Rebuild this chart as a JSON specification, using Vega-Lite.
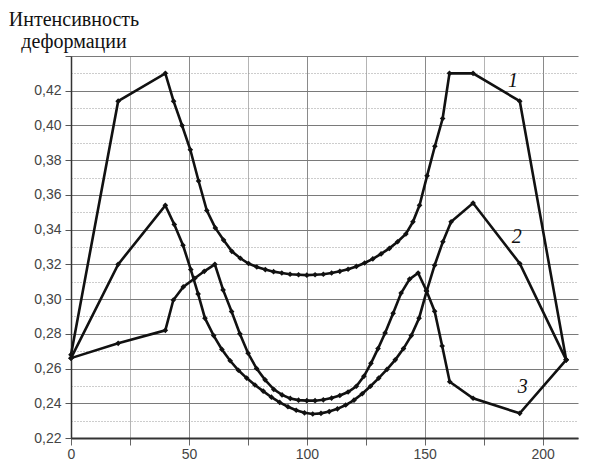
{
  "$schema": "https://vega.github.io/schema/vega-lite/v6.json",
  "width": 507,
  "height": 382,
  "autosize": {"type": "none"},
  "padding": {"left": 71, "top": 56, "right": 12, "bottom": 26},
  "background": "white",
  "config": {"view": {"stroke": null}},
  "data": {
    "values": [
      {"curve": "1", "x": 0, "y": 0.268},
      {"curve": "1", "x": 20, "y": 0.414},
      {"curve": "1", "x": 40, "y": 0.430},
      {"curve": "1", "x": 43.5, "y": 0.414},
      {"curve": "1", "x": 47.1, "y": 0.400},
      {"curve": "1", "x": 50.6, "y": 0.386},
      {"curve": "1", "x": 54.1, "y": 0.368},
      {"curve": "1", "x": 57.6, "y": 0.351},
      {"curve": "1", "x": 61.2, "y": 0.341},
      {"curve": "1", "x": 64.7, "y": 0.334},
      {"curve": "1", "x": 68.2, "y": 0.3275},
      {"curve": "1", "x": 71.8, "y": 0.3235},
      {"curve": "1", "x": 75.3, "y": 0.3205},
      {"curve": "1", "x": 78.8, "y": 0.3185},
      {"curve": "1", "x": 82.4, "y": 0.317},
      {"curve": "1", "x": 85.9, "y": 0.3158},
      {"curve": "1", "x": 89.4, "y": 0.315},
      {"curve": "1", "x": 92.9, "y": 0.3143},
      {"curve": "1", "x": 96.5, "y": 0.314},
      {"curve": "1", "x": 100, "y": 0.3138},
      {"curve": "1", "x": 103.5, "y": 0.314},
      {"curve": "1", "x": 107, "y": 0.3143},
      {"curve": "1", "x": 110.5, "y": 0.315},
      {"curve": "1", "x": 114, "y": 0.316},
      {"curve": "1", "x": 117.5, "y": 0.3172},
      {"curve": "1", "x": 121, "y": 0.3188},
      {"curve": "1", "x": 124.5, "y": 0.3208},
      {"curve": "1", "x": 128, "y": 0.3232},
      {"curve": "1", "x": 131.5, "y": 0.326},
      {"curve": "1", "x": 135, "y": 0.3292},
      {"curve": "1", "x": 138.5, "y": 0.333},
      {"curve": "1", "x": 142, "y": 0.3375},
      {"curve": "1", "x": 145, "y": 0.3445},
      {"curve": "1", "x": 147.8, "y": 0.354},
      {"curve": "1", "x": 151, "y": 0.371},
      {"curve": "1", "x": 154.3, "y": 0.388},
      {"curve": "1", "x": 157.6, "y": 0.404},
      {"curve": "1", "x": 160.5, "y": 0.430},
      {"curve": "1", "x": 170.5, "y": 0.430},
      {"curve": "1", "x": 190.3, "y": 0.414},
      {"curve": "1", "x": 210, "y": 0.265},

      {"curve": "2", "x": 0, "y": 0.266},
      {"curve": "2", "x": 20, "y": 0.320},
      {"curve": "2", "x": 40, "y": 0.354},
      {"curve": "2", "x": 43.8, "y": 0.343},
      {"curve": "2", "x": 47.5, "y": 0.331},
      {"curve": "2", "x": 50.8, "y": 0.317},
      {"curve": "2", "x": 53.9, "y": 0.303},
      {"curve": "2", "x": 56.8, "y": 0.289},
      {"curve": "2", "x": 60.5, "y": 0.279},
      {"curve": "2", "x": 64, "y": 0.271},
      {"curve": "2", "x": 67.5, "y": 0.2645},
      {"curve": "2", "x": 71, "y": 0.259},
      {"curve": "2", "x": 74.5, "y": 0.2545},
      {"curve": "2", "x": 78, "y": 0.2505},
      {"curve": "2", "x": 81.5, "y": 0.247},
      {"curve": "2", "x": 85, "y": 0.2435},
      {"curve": "2", "x": 88.5, "y": 0.2405},
      {"curve": "2", "x": 92, "y": 0.238},
      {"curve": "2", "x": 95.5, "y": 0.236},
      {"curve": "2", "x": 99, "y": 0.2345},
      {"curve": "2", "x": 102.5, "y": 0.2338},
      {"curve": "2", "x": 106, "y": 0.2342},
      {"curve": "2", "x": 109.5, "y": 0.2352},
      {"curve": "2", "x": 113, "y": 0.2368},
      {"curve": "2", "x": 116.5, "y": 0.239},
      {"curve": "2", "x": 120, "y": 0.2418},
      {"curve": "2", "x": 123.5, "y": 0.2455},
      {"curve": "2", "x": 127, "y": 0.2498},
      {"curve": "2", "x": 130.5, "y": 0.2545},
      {"curve": "2", "x": 134, "y": 0.2595},
      {"curve": "2", "x": 137.5, "y": 0.265},
      {"curve": "2", "x": 141, "y": 0.2715},
      {"curve": "2", "x": 144.3, "y": 0.279},
      {"curve": "2", "x": 147.6, "y": 0.289},
      {"curve": "2", "x": 150.8, "y": 0.3045},
      {"curve": "2", "x": 154.2, "y": 0.3195},
      {"curve": "2", "x": 157.7, "y": 0.333},
      {"curve": "2", "x": 161.2, "y": 0.3445},
      {"curve": "2", "x": 170.5, "y": 0.3553},
      {"curve": "2", "x": 190.3, "y": 0.3205},
      {"curve": "2", "x": 210, "y": 0.265},

      {"curve": "3", "x": 0, "y": 0.266},
      {"curve": "3", "x": 20, "y": 0.2745},
      {"curve": "3", "x": 40, "y": 0.282},
      {"curve": "3", "x": 43.4, "y": 0.2995},
      {"curve": "3", "x": 47.6, "y": 0.307},
      {"curve": "3", "x": 52.5, "y": 0.312},
      {"curve": "3", "x": 56.5, "y": 0.316},
      {"curve": "3", "x": 61, "y": 0.320},
      {"curve": "3", "x": 64.5, "y": 0.3053},
      {"curve": "3", "x": 68.1, "y": 0.2928},
      {"curve": "3", "x": 71.6, "y": 0.280},
      {"curve": "3", "x": 75.1, "y": 0.2688},
      {"curve": "3", "x": 78.7, "y": 0.260},
      {"curve": "3", "x": 82.3, "y": 0.2535},
      {"curve": "3", "x": 86, "y": 0.248},
      {"curve": "3", "x": 89.5, "y": 0.2448},
      {"curve": "3", "x": 93, "y": 0.2428},
      {"curve": "3", "x": 96.5, "y": 0.2418},
      {"curve": "3", "x": 100, "y": 0.2415},
      {"curve": "3", "x": 103.5, "y": 0.2415},
      {"curve": "3", "x": 107, "y": 0.242},
      {"curve": "3", "x": 110.5, "y": 0.243},
      {"curve": "3", "x": 114, "y": 0.2445},
      {"curve": "3", "x": 117.5, "y": 0.2465},
      {"curve": "3", "x": 121, "y": 0.2498},
      {"curve": "3", "x": 124.2, "y": 0.2555},
      {"curve": "3", "x": 127.2, "y": 0.263},
      {"curve": "3", "x": 130.2, "y": 0.2715},
      {"curve": "3", "x": 133.2, "y": 0.2805},
      {"curve": "3", "x": 136.6, "y": 0.2918},
      {"curve": "3", "x": 140, "y": 0.3035},
      {"curve": "3", "x": 143.6, "y": 0.3115},
      {"curve": "3", "x": 147.2, "y": 0.315},
      {"curve": "3", "x": 150.7, "y": 0.305},
      {"curve": "3", "x": 154.2, "y": 0.293},
      {"curve": "3", "x": 157.4, "y": 0.273},
      {"curve": "3", "x": 160.6, "y": 0.2524},
      {"curve": "3", "x": 170.5, "y": 0.2429},
      {"curve": "3", "x": 190.3, "y": 0.2342},
      {"curve": "3", "x": 210, "y": 0.265}
    ]
  },
  "encoding": {
    "x": {
      "field": "x",
      "type": "quantitative",
      "scale": {"domain": [0, 215], "nice": false, "zero": false},
      "axis": {
        "title": null,
        "values": [0, 25, 50, 75, 100, 125, 150, 175, 200],
        "labelExpr": "datum.value % 50 === 0 ? datum.label : ''",
        "labelFlush": false,
        "labelOverlap": false,
        "labelFont": "Liberation Sans",
        "labelFontSize": 14,
        "labelColor": "#444",
        "labelPadding": 2,
        "tickSize": 7,
        "tickColor": "#666",
        "domainColor": "#333",
        "domainWidth": 2,
        "grid": true,
        "gridColor": {"condition": {"test": "datum.value % 50 === 0", "value": "#8a8a8a"}, "value": "#b4b4b4"},
        "gridWidth": 1
      }
    },
    "y": {
      "field": "y",
      "type": "quantitative",
      "scale": {"domain": [0.22, 0.44], "nice": false, "zero": false},
      "axis": {
        "title": null,
        "values": [0.22, 0.23, 0.24, 0.25, 0.26, 0.27, 0.28, 0.29, 0.30, 0.31, 0.32, 0.33, 0.34, 0.35, 0.36, 0.37, 0.38, 0.39, 0.40, 0.41, 0.42, 0.43, 0.44],
        "labelExpr": "(round(datum.value * 100) % 2 === 0 && datum.value < 0.435) ? replace(format(datum.value, '.2f'), '.', ',') : ''",
        "labelOverlap": false,
        "labelFont": "Liberation Sans",
        "labelFontSize": 14,
        "labelColor": "#444",
        "labelPadding": 4,
        "tickSize": 6,
        "tickColor": "#555",
        "tickOpacity": {"condition": {"test": "round(datum.value * 100) % 2 === 0", "value": 1}, "value": 0},
        "domainColor": "#333",
        "domainWidth": 1.5,
        "grid": true,
        "gridColor": {"condition": {"test": "round(datum.value * 100) % 2 === 0", "value": "#7a7a7a"}, "value": "#9a9a9a"},
        "gridDash": {"condition": {"test": "round(datum.value * 100) % 2 === 1", "value": [1, 2]}, "value": []},
        "gridWidth": {"condition": {"test": "round(datum.value * 100) % 2 === 0", "value": 1.2}, "value": 1}
      }
    }
  },
  "title": {
    "text": ["Интенсивность", "деформации"],
    "font": "Liberation Serif",
    "fontSize": 20,
    "fontWeight": "normal",
    "color": "#111",
    "anchor": "start",
    "frame": "group",
    "align": "center",
    "baseline": "alphabetic",
    "lineHeight": 22,
    "dx": 3,
    "dy": 26,
    "offset": 7
  },
  "layer": [
    {
      "mark": {"type": "line", "color": "#111", "strokeWidth": 2.6},
      "encoding": {"detail": {"field": "curve"}}
    },
    {
      "mark": {"type": "point", "shape": "diamond", "filled": true, "color": "#111", "size": 32, "opacity": 1},
      "encoding": {"detail": {"field": "curve"}}
    },
    {
      "data": {
        "values": [
          {"x": 187.4, "y": 0.4258, "label": "1"},
          {"x": 189, "y": 0.3359, "label": "2"},
          {"x": 191.6, "y": 0.2494, "label": "3"}
        ]
      },
      "mark": {"type": "text", "font": "Liberation Serif", "fontStyle": "italic", "fontSize": 20, "color": "#111", "align": "center", "baseline": "middle"},
      "encoding": {"text": {"field": "label"}}
    }
  ]
}
